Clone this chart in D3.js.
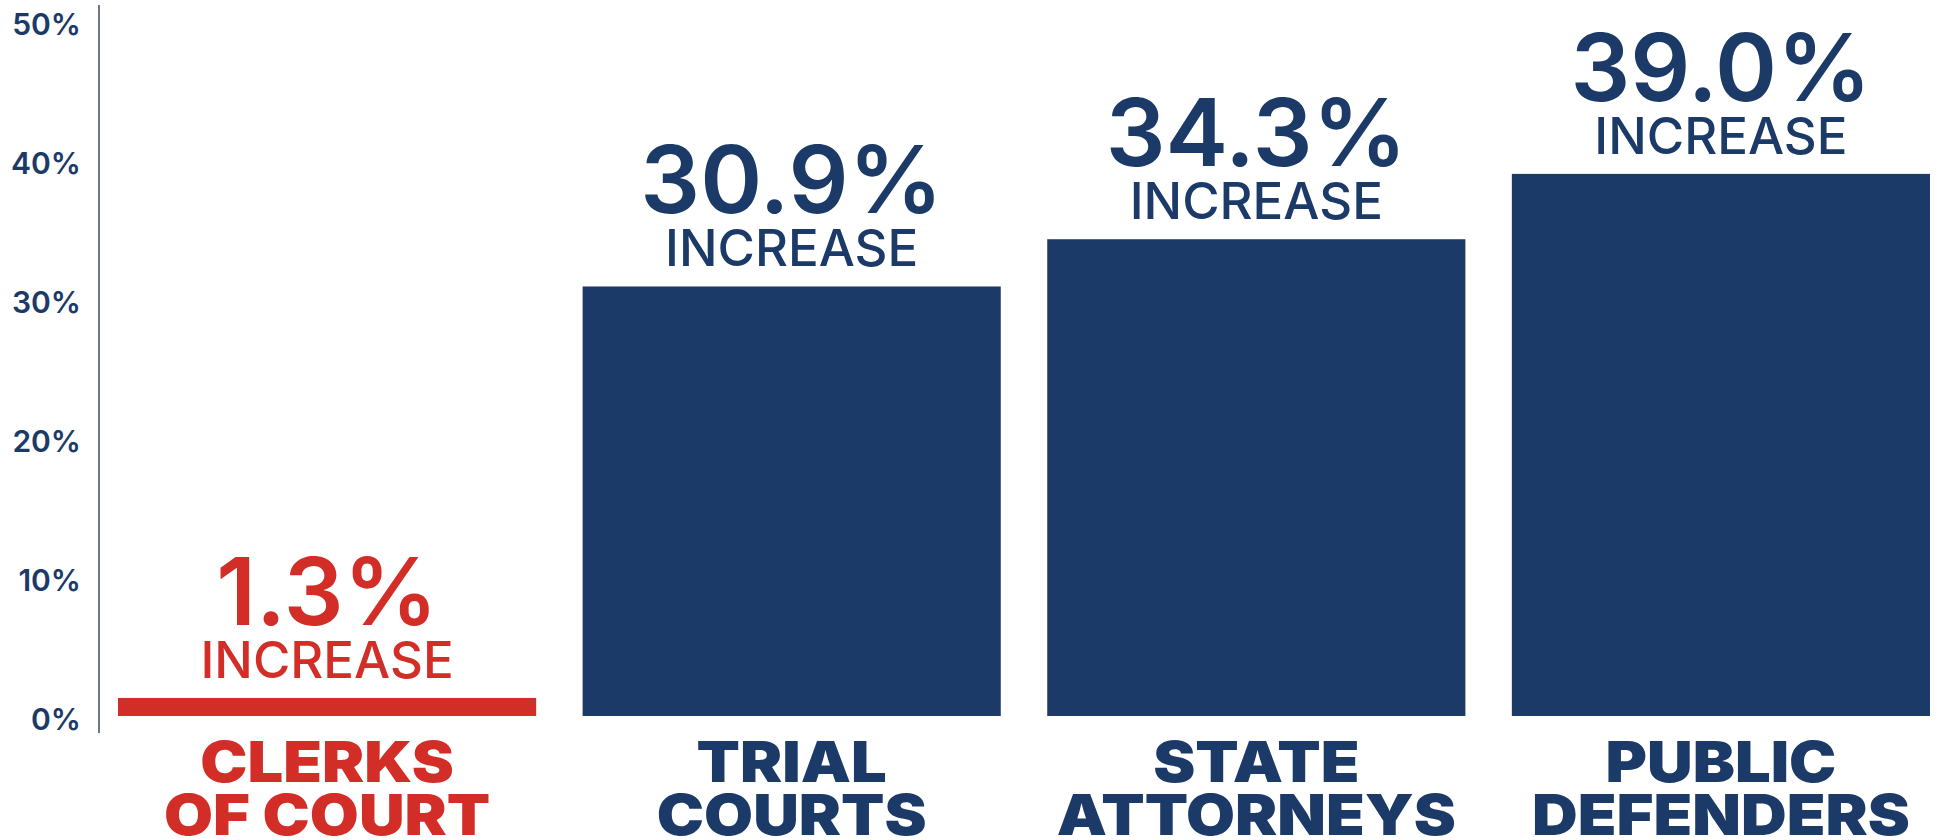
<!DOCTYPE html>
<html lang="en">
  <head>
    <meta charset="utf-8">
    <title>Budget increase by court entity</title>
    <script src="https://cdnjs.cloudflare.com/ajax/libs/d3/7.8.0/d3.min.js"></script>
    <style>
      body { margin: 0; background: #fff; }
      svg { display: block; font-family: Inter, "Open Sans", sans-serif; }
      .tick text { font-family: Inter, "Open Sans", sans-serif; font-size: 30px; font-weight: 600; fill: #1c3a68; }
      .value { font-size: 94px; font-weight: 600; }
      .increase { font-size: 51px; font-weight: 500; }
      .cat { font-size: 57px; font-weight: 900; }
    </style>
  </head>
  <body>
    <div id="chartContainer"></div>

    <script type="text/javascript">
      // data
      var categories = ["Clerks of Court", "Trial Courts", "State Attorneys", "Public Defenders"];
      var labelLines = [["CLERKS", "OF COURT"], ["TRIAL", "COURTS"], ["STATE", "ATTORNEYS"], ["PUBLIC", "DEFENDERS"]];
      var increases = [1.3, 30.9, 34.3, 39.0];
      var tickValues = [0, 10, 20, 30, 40, 50];

      var navy = "#1c3a68", red = "#d32d27";

      var width = 1940, height = 840;

      var svg = d3.select("#chartContainer")
                  .append("svg")
                  .attr("width", width)
                  .attr("height", height);

      var x = d3.scaleBand()
                .domain(categories)
                .range([118, 1930])
                .paddingInner(0.1)
                .paddingOuter(0);

      var y = d3.scaleLinear()
                .domain([0, 50])
                .range([716, 21]);

      var color = d3.scaleOrdinal()
                    .domain(categories)
                    .range([red, navy, navy, navy]);

      var data = categories.map(function(c, i) {
        return { name: c, value: increases[i], lines: labelLines[i] };
      });

      // y axis: labels only, plus a thin vertical rule
      var axisX = 99;
      svg.append("g")
         .attr("transform", "translate(" + axisX + ",0)")
         .call(d3.axisLeft(y)
                 .tickValues(tickValues)
                 .tickSize(0)
                 .tickPadding(18)
                 .tickFormat(function(d) { return d + "%"; }))
         .call(function(g) { g.select(".domain").remove(); })
         .call(function(g) { g.selectAll(".tick text").attr("dy", "0.46em"); });

      svg.append("line")
         .attr("x1", axisX).attr("x2", axisX)
         .attr("y1", 5).attr("y2", y(0) + 17)
         .attr("stroke", "#3c4a63")
         .attr("stroke-width", 1.5);

      // bars
      svg.selectAll(".bar")
         .data(data)
         .enter().append("rect")
         .attr("class", "bar")
         .attr("x", function(d) { return x(d.name); })
         .attr("y", function(d) { return y(d.value); })
         .attr("width", x.bandwidth())
         .attr("height", function(d) { return y(0) - y(d.value); })
         .attr("fill", function(d) { return color(d.name); });

      // value labels above bars
      var labels = svg.selectAll(".label")
                      .data(data)
                      .enter().append("g")
                      .attr("class", "label")
                      .attr("fill", function(d) { return color(d.name); })
                      .attr("text-anchor", "middle");

      labels.append("text")
            .attr("class", "value")
            .attr("x", function(d) { return x(d.name) + x.bandwidth() / 2; })
            .attr("y", function(d) { return y(d.value) - 73; })
            .text(function(d) { return d.value.toFixed(1) + "%"; });

      labels.append("text")
            .attr("class", "increase")
            .attr("x", function(d) { return x(d.name) + x.bandwidth() / 2; })
            .attr("y", function(d) { return y(d.value) - 20; })
            .text("INCREASE");

      // category names under bars
      var cats = svg.selectAll(".catg")
                    .data(data)
                    .enter().append("g")
                    .attr("class", "catg")
                    .attr("fill", function(d) { return color(d.name); })
                    .attr("transform", function(d) {
                      return "translate(" + (x(d.name) + x.bandwidth() / 2) + "," + (y(0) + 66) + ") scale(1.11,1)";
                    });

      cats.selectAll("text")
          .data(function(d) { return d.lines; })
          .enter().append("text")
          .attr("class", "cat")
          .attr("text-anchor", "middle")
          .attr("y", function(d, i) { return i * 53; })
          .text(function(d) { return d; });
    </script>
  </body>
</html>
